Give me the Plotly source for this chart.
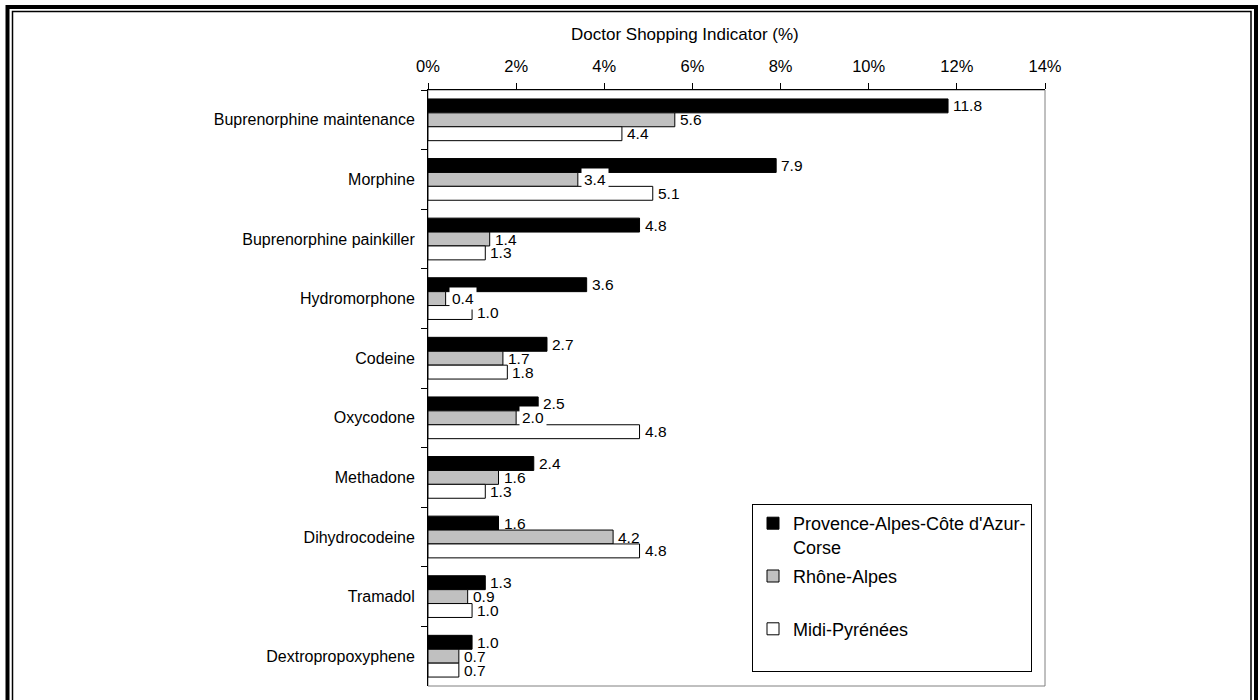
import plotly.graph_objects as go

# ---- data -------------------------------------------------------------
categories = [
    "Buprenorphine maintenance",
    "Morphine",
    "Buprenorphine painkiller",
    "Hydromorphone",
    "Codeine",
    "Oxycodone",
    "Methadone",
    "Dihydrocodeine",
    "Tramadol",
    "Dextropropoxyphene",
]
paca = [11.8, 7.9, 4.8, 3.6, 2.7, 2.5, 2.4, 1.6, 1.3, 1.0]
rhone_alpes = [5.6, 3.4, 1.4, 0.4, 1.7, 2.0, 1.6, 4.2, 0.9, 0.7]
midi_pyrenees = [4.4, 5.1, 1.3, 1.0, 1.8, 4.8, 1.3, 4.8, 1.0, 0.7]

series_names = ["Provence-Alpes-Côte d'Azur-<br>Corse", "Rhône-Alpes<br> ", "Midi-Pyrénées<br> "]
x_tick_values = [0, 2, 4, 6, 8, 10, 12, 14]
x_tick_labels = ["0%", "2%", "4%", "6%", "8%", "10%", "12%", "14%"]
axis_title = "Doctor Shopping Indicator (%)"

# ---- styling ------------------------------------------------------------
FONT = "Liberation Sans, Arial, sans-serif"
fills = ["#000000", "#C0C0C0", "#FFFFFF"]
BARGAP = 0.3

# labels drawn on an opaque white box: (series index, category index)
boxed_labels = {(1, 1), (1, 3), (1, 5)}

W, H = 1259, 700
ML, MR, MT, MB = 428, 214, 90, 14
PW, PH = W - ML - MR, H - MT - MB


def px(xp):
    return (xp - ML) / PW


def py(yp):
    return (H - MB - yp) / PH


fig = go.Figure()
all_series = [paca, rhone_alpes, midi_pyrenees]
for name, vals, fill in zip(series_names, all_series, fills):
    fig.add_trace(
        go.Bar(
            y=categories,
            x=vals,
            orientation="h",
            name=name,
            marker=dict(color=fill, line=dict(color="#000000", width=1)),
            legendgroup=name,
        )
    )

# value labels just past the end of each bar; boxed ones first so the
# plain labels stay on top of any white box
bar_w = (1 - BARGAP) / len(all_series)
offsets = [(k - (len(all_series) - 1) / 2) * bar_w for k in range(len(all_series))]
boxed_ann, plain_ann = [], []
for s, vals in enumerate(all_series):
    for i, v in enumerate(vals):
        boxed = (s, i) in boxed_labels
        ann = dict(
            x=v,
            y=i + offsets[s],
            xref="x",
            yref="y",
            text=f"{v:.1f}",
            showarrow=False,
            xanchor="left",
            yanchor="middle",
            xshift=3,
            font=dict(family=FONT, size=15.5, color="#000000"),
            bgcolor="#FFFFFF" if boxed else "rgba(0,0,0,0)",
            borderpad=2 if boxed else 1,
        )
        (boxed_ann if boxed else plain_ann).append(ann)
annotations = boxed_ann + plain_ann

annotations.append(
    dict(
        x=px(685),
        y=py(35),
        xref="paper",
        yref="paper",
        text=axis_title,
        showarrow=False,
        xanchor="center",
        yanchor="middle",
        font=dict(family=FONT, size=17, color="#000000"),
    )
)

shapes = [
    # plot-area frame (right and bottom show in grey)
    dict(type="rect", xref="paper", yref="paper", x0=0, x1=1, y0=0, y1=1,
         line=dict(color="#808080", width=1), layer="below"),
    # double page border
    dict(type="rect", xref="paper", yref="paper",
         x0=px(7.5), x1=px(1256), y0=py(730), y1=py(7),
         line=dict(color="#000000", width=4)),
    dict(type="rect", xref="paper", yref="paper",
         x0=px(12.5), x1=px(1251), y0=py(730), y1=py(11.5),
         line=dict(color="#000000", width=1.5)),
]

fig.update_layout(
    width=W,
    height=H,
    margin=dict(l=ML, r=MR, t=MT, b=MB, pad=0),
    paper_bgcolor="#FFFFFF",
    plot_bgcolor="#FFFFFF",
    barmode="group",
    bargap=BARGAP,
    bargroupgap=0,
    font=dict(family=FONT, size=15, color="#000000"),
    annotations=annotations,
    shapes=shapes,
    legend=dict(
        x=px(752),
        y=py(504),
        xanchor="left",
        yanchor="top",
        bgcolor="#FFFFFF",
        bordercolor="#000000",
        borderwidth=1,
        font=dict(family=FONT, size=18, color="#000000"),
        valign="top",
        tracegroupgap=3,
        traceorder="grouped",
        itemclick=False,
    ),
    xaxis=dict(
        side="top",
        range=[0, 14],
        tickvals=x_tick_values,
        ticktext=x_tick_labels,
        ticks="outside",
        ticklen=6,
        tickcolor="#000000",
        showline=True,
        linecolor="#000000",
        linewidth=1,
        showgrid=False,
        zeroline=False,
        ticklabelstandoff=4,
        tickfont=dict(family=FONT, size=16.5, color="#000000"),
        fixedrange=True,
    ),
    yaxis=dict(
        type="category",
        categoryorder="array",
        categoryarray=categories,
        autorange="reversed",
        tickson="boundaries",
        ticks="outside",
        ticklen=6,
        tickcolor="#000000",
        showline=True,
        linecolor="#000000",
        linewidth=1,
        showgrid=False,
        zeroline=False,
        ticklabelstandoff=9,
        tickfont=dict(family=FONT, size=16, color="#000000"),
        fixedrange=True,
    ),
)

fig.write_html("out.html", config=dict(displayModeBar=False))
